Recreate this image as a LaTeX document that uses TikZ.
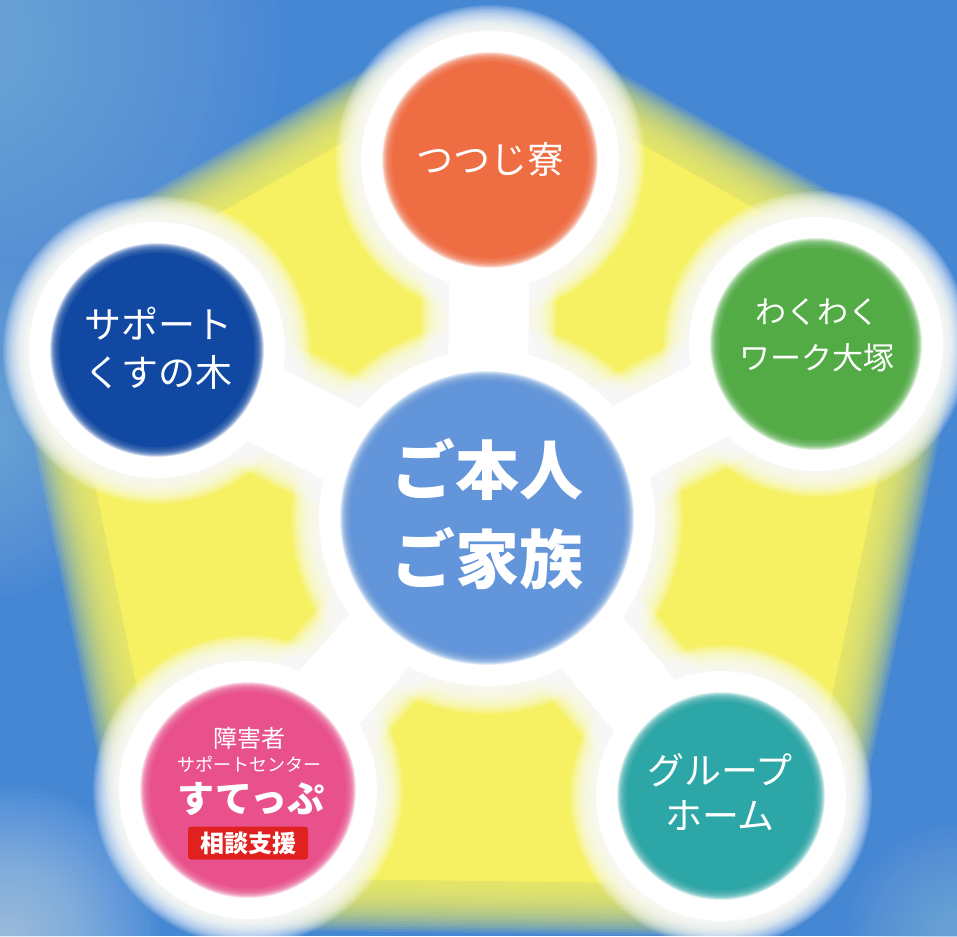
\documentclass[tikz,border=0pt]{standalone}
\usepackage{fontspec}
\newfontfamily\jp{Noto Sans CJK JP}
\definecolor{bgblue}{HTML}{4687D4}
\definecolor{bglight}{HTML}{8CBBE8}
\definecolor{yel}{HTML}{F5F163}
\definecolor{cOrange}{HTML}{EF6D43}
\definecolor{cNavy}{HTML}{1048A2}
\definecolor{cGreen}{HTML}{52AB45}
\definecolor{cPink}{HTML}{E9518C}
\definecolor{cTeal}{HTML}{2CA6A7}
\definecolor{cCenter}{HTML}{6295D9}
\definecolor{cRed}{HTML}{E0211F}
% soft-edged disk: coordinate, radius, colour, blur
\newcommand{\softdisk}[4]{%
  \foreach \k in {0,...,20}{%
    \pgfmathsetmacro{\rr}{#2+#4-\k*#4/10}%
    \fill[#3, opacity=0.12] (#1) circle[radius=\rr pt];
  }%
  \pgfmathsetmacro{\rr}{#2-#4}%
  \fill[#3] (#1) circle[radius=\rr pt];
}
% very soft glow: coordinate, radius, colour
\newcommand{\glow}[3]{%
  \foreach \k in {1,...,30}{%
    \pgfmathsetmacro{\rr}{(#2/30)*\k}%
    \fill[#3, opacity=0.035] (#1) circle[radius=\rr pt];
  }%
}
% soft-edged band: from, to, half width, colour, blur
\newcommand{\softband}[5]{%
  \foreach \k in {0,...,20}{%
    \pgfmathsetmacro{\ww}{2*(#3+#5-\k*#5/10)}%
    \draw[#4, opacity=0.12, line width=\ww pt, line cap=round] (#1) -- (#2);
  }%
  \pgfmathsetmacro{\ww}{2*(#3-#5)}%
  \draw[#4, line width=\ww pt, line cap=round] (#1) -- (#2);
}
\tikzset{
  lbl/.style={text=white, align=center, inner sep=0pt},
}
\begin{document}
\begin{tikzpicture}[x=1pt,y=-1pt]
\useasboundingbox (0,0) rectangle (957,936);
\clip (0,0) rectangle (957,936);
\fill[bgblue] (0,0) rectangle (957,936);
% light patches of the background
\coordinate (bgA) at (-40,40);
\coordinate (bgB) at (-30,430);
\coordinate (bgC) at (10,936);
\coordinate (bgD) at (957,936);
\glow{bgA}{320}{bglight}
\glow{bgB}{170}{bglight}
\glow{bgC}{150}{white!60!bglight}
\glow{bgD}{110}{bglight}
% centres
\coordinate (C) at (487,518);
\coordinate (O) at (490,160);
\coordinate (G) at (816,344);
\coordinate (T) at (721,796);
\coordinate (P) at (248,790);
\coordinate (N) at (157,350);
% yellow pentagon
\foreach \k in {0,...,20}{
  \pgfmathsetmacro{\ww}{2*(140-\k*2.6)}
  \filldraw[yel, opacity=0.12, line width=\ww pt, line join=round] (O) -- (G) -- (T) -- (P) -- (N) -- cycle;
}
\filldraw[yel, line width=176pt, line join=round] (O) -- (G) -- (T) -- (P) -- (N) -- cycle;
% white spokes
\softband{C}{O}{54}{white}{14}
\softband{C}{G}{54}{white}{14}
\softband{C}{T}{54}{white}{14}
\softband{C}{P}{54}{white}{14}
\softband{C}{N}{54}{white}{14}
% white halos
\softdisk{C}{182}{white}{14}
\softdisk{O}{142}{white}{13}
\softdisk{G}{140}{white}{13}
\softdisk{T}{138}{white}{13}
\softdisk{P}{142}{white}{13}
\softdisk{N}{141}{white}{13}
% coloured disks
\softdisk{C}{142}{cCenter}{5}
\softdisk{O}{103}{cOrange}{5}
\softdisk{G}{101}{cGreen}{5}
\softdisk{T}{99}{cTeal}{5}
\softdisk{P}{103}{cPink}{5}
\softdisk{N}{102}{cNavy}{5}
% texts
\node[lbl, font=\jp\bfseries\fontsize{64}{89}\selectfont] (tC) at (487,514) {ご本人\\ご家族};
\node[lbl, font=\jp\fontsize{37}{46}\selectfont] (tO) at (490,159) {つつじ寮};
\node[lbl, font=\jp\fontsize{37}{48}\selectfont] (tN) at (158,348) {サポート\\くすの木};
\node[lbl, font=\jp\fontsize{31}{46}\selectfont] (tG) at (817,335) {わくわく\\ワーク大塚};
\node[lbl, font=\jp\fontsize{37}{45}\selectfont] (tT) at (720,792) {グループ\\ホーム};
\node[lbl, font=\jp\fontsize{24}{26}\selectfont] (tP1) at (249,738) {障害者};
\node[lbl, font=\jp\fontsize{18}{20}\selectfont] (tP2) at (249,764) {サポートセンター};
\node[lbl, font=\jp\bfseries\fontsize{37}{40}\selectfont] (tP3) at (251,799) {すてっぷ};
\node[fill=cRed, rounded corners=3pt, text=white, inner sep=0pt, minimum width=120pt, minimum height=33pt, font=\jp\bfseries\fontsize{24}{26}\selectfont] (tP4) at (248,843) {相談支援};
\end{tikzpicture}
\end{document}
